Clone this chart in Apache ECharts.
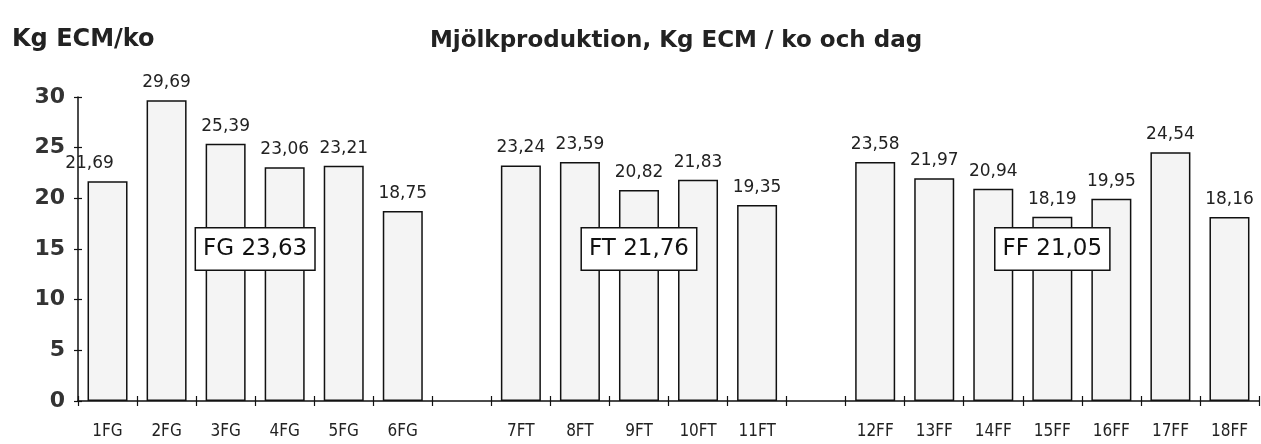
<!DOCTYPE html>
<html>
<head>
<meta charset="utf-8">
<title>Mjölkproduktion</title>
<script src="https://cdn.jsdelivr.net/npm/echarts@6/dist/echarts.min.js"></script>
<style>
  html, body { margin: 0; padding: 0; background: #fff; }
  #chart { width: 1261px; height: 444px; }
</style>
</head>
<body>
<div id="chart"></div>
<script>
// Farms grouped by type; empty slots separate the groups on the axis
const categories = ['1FG', '2FG', '3FG', '4FG', '5FG', '6FG', '',
                    '7FT', '8FT', '9FT', '10FT', '11FT', '',
                    '12FF', '13FF', '14FF', '15FF', '16FF', '17FF', '18FF'];
const milkYield = [21.69, 29.69, 25.39, 23.06, 23.21, 18.75, null,
                   23.24, 23.59, 20.82, 21.83, 19.35, null,
                   23.58, 21.97, 20.94, 18.19, 19.95, 24.54, 18.16];
const groupNames = ['FG', 'FT', 'FF'];
const groupMeans = [23.63, 21.76, 21.05];
const groupFirst = [0, 7, 13];
const groupLast = [5, 11, 19];
const yTicks = [0, 5, 10, 15, 20, 25, 30];

const fmt = v => v.toFixed(2).replace('.', ',');
const FONT = '"DejaVu Sans", sans-serif';

const chart = echarts.init(document.getElementById('chart'));

const yMin = yTicks[0], yMax = yTicks[yTicks.length - 1], yStep = yTicks[1] - yTicks[0];
const grid = { left: 78, right: 2, top: 97, bottom: 43 };

const xBase = {
  type: 'category',
  data: categories,
  boundaryGap: true,
  gridIndex: 0,
  position: 'bottom',
  splitLine: { show: false }
};
const yBase = {
  type: 'value',
  min: yMin, max: yMax, interval: yStep,
  gridIndex: 0,
  position: 'left',
  splitLine: { show: false }
};

chart.setOption({
  animation: false,
  backgroundColor: '#fff',
  grid: grid,
  title: [
    {
      text: 'Mjölkproduktion, Kg ECM / ko och dag',
      left: 671, top: 25, textAlign: 'center',
      textStyle: { fontFamily: FONT, fontWeight: 'bold', fontSize: 23, color: '#222' }
    },
    {
      text: 'Kg ECM/ko',
      left: 7, top: 23,
      textStyle: { fontFamily: FONT, fontWeight: 'bold', fontSize: 24, color: '#222' }
    }
  ],
  xAxis: [
    Object.assign({}, xBase, {
      axisLine: { show: true, lineStyle: { color: '#111', width: 1.5 } },
      axisTick: { show: true, interval: 0, inside: false, length: 5, lineStyle: { color: '#111', width: 1.2 } },
      axisLabel: {
        interval: 0, margin: 22,
        fontFamily: '"DejaVu Sans Condensed", "Liberation Sans Narrow", sans-serif',
        fontSize: 17, color: '#222'
      }
    }),
    Object.assign({}, xBase, {
      axisLine: { show: false },
      axisTick: { show: true, interval: 0, inside: true, length: 5, lineStyle: { color: '#111', width: 1.2 } },
      axisLabel: { show: false }
    })
  ],
  yAxis: [
    Object.assign({}, yBase, {
      axisLine: { show: true, lineStyle: { color: '#111', width: 1.5 } },
      axisTick: { show: true, inside: false, length: 4, lineStyle: { color: '#111', width: 1.2 } },
      axisLabel: {
        margin: 13, fontFamily: FONT, fontWeight: 'bold', fontSize: 22, color: '#333'
      }
    }),
    Object.assign({}, yBase, {
      axisLine: { show: false },
      axisTick: { show: true, inside: true, length: 4, lineStyle: { color: '#111', width: 1.2 } },
      axisLabel: { show: false }
    })
  ],
  series: [{
    type: 'bar',
    xAxisIndex: 0,
    yAxisIndex: 0,
    barWidth: 40,
    data: milkYield.map((v, i) => i === 0 ? { value: v, label: { offset: [-18, 0] } } : v),
    itemStyle: { color: '#f4f4f4', borderColor: '#111', borderWidth: 1.5 },
    label: {
      show: true,
      position: 'top',
      distance: 9,
      fontFamily: FONT,
      fontSize: 17,
      color: '#222',
      formatter: p => (p.value == null ? '' : fmt(p.value))
    }
  }]
});

// Boxed group averages, centred over each group of farms
function drawGroupBoxes() {
  const boxLevel = 15;
  const elements = groupNames.map((name, g) => {
    const a = chart.convertToPixel({ xAxisIndex: 0, yAxisIndex: 0 }, [groupFirst[g], boxLevel]);
    const b = chart.convertToPixel({ xAxisIndex: 0, yAxisIndex: 0 }, [groupLast[g], boxLevel]);
    return {
      type: 'text',
      x: (a[0] + b[0]) / 2,
      y: a[1],
      z: 100,
      style: {
        text: name + ' ' + fmt(groupMeans[g]),
        fontFamily: FONT,
        fontSize: 23,
        fill: '#111',
        align: 'center',
        verticalAlign: 'middle',
        backgroundColor: '#fff',
        borderColor: '#111',
        borderWidth: 1.5,
        padding: [9, 7, 9, 7]
      }
    };
  });
  chart.setOption({ graphic: elements });
}
drawGroupBoxes();
</script>
</body>
</html>
